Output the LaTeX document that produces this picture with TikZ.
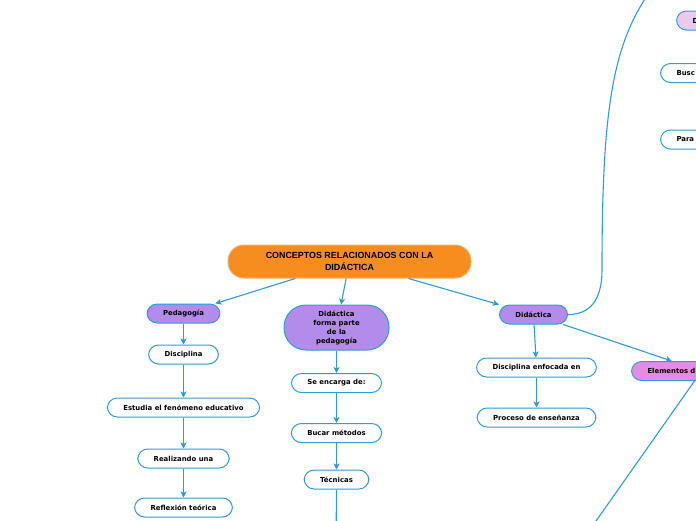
\documentclass[tikz,border=0pt]{standalone}
\usepackage{fontspec}
\setmainfont{DejaVu Sans}
\newfontfamily\titlefont{Liberation Sans}
\usetikzlibrary{arrows.meta, positioning}
\definecolor{linkblue}{HTML}{2D9CDF}
\definecolor{mainorange}{HTML}{F78C1F}
\definecolor{lilac}{HTML}{B38BE8}
\definecolor{orchid}{HTML}{E78BE0}
\definecolor{paleviolet}{HTML}{E8CBEB}

\begin{document}
\begin{tikzpicture}[x=1pt, y=-1pt, >={Stealth[length=6pt, width=6pt, inset=1.5pt]},
  concept/.style={draw=linkblue, line width=1pt, fill=white, rounded corners=10pt, minimum height=19pt, inner xsep=16pt, inner ysep=0pt, font=\fontsize{6.9}{9}\selectfont\bfseries},
  topic/.style={concept, fill=lilac},
  cut/.style={concept, anchor=west, align=left},
  link/.style={draw=linkblue, line width=1.1pt}]
  \useasboundingbox (0,0) rectangle (696,520);
  \clip (0,0) rectangle (696,520);

  \node[concept, fill=mainorange, draw=mainorange!70!white, minimum width=243pt, minimum height=33pt, rounded corners=16pt, align=center, font=\titlefont\fontsize{8.9}{12}\selectfont\bfseries] (conceptos) at (349.5,261.5) {CONCEPTOS RELACIONADOS CON LA\\DIDÁCTICA};

  \node[topic]                (pedagogia)  at (183.5,313.5)              {Pedagogía};
  \node[topic, minimum width=105pt, minimum height=45pt, rounded corners=22pt, align=center]
                              (parte)      at (336.5,327.5)              {Didáctica\\forma parte\\de la\\pedagogía};
  \node[topic]                (didactica)  at (533.5,314.5)              {Didáctica};

  \node[concept]              (disciplina) [below=21pt of pedagogia]     {Disciplina};
  \node[concept]              (estudia)    [below=33pt of disciplina]    {Estudia el fenómeno educativo};
  \node[concept]              (realizando) [below=31pt of estudia]       {Realizando una};
  \node[concept]              (reflexion)  [below=29pt of realizando]    {Reflexión teórica};

  \node[concept]              (encarga)    [below=22.5pt of parte]       {Se encarga de:};
  \node[concept]              (metodos)    [below=30pt of encarga]       {Bucar métodos};
  \node[concept]              (tecnicas)   [below=26.5pt of metodos]     {Técnicas};

  \node[concept]              (enfocada)   [below=33pt of didactica, xshift=3pt] {Disciplina enfocada en};
  \node[concept]              (proceso)    [below=30pt of enfocada]      {Proceso de enseñanza};

  \node[cut, fill=orchid, text width=108pt]    (elementos) at (631,371)   {Elementos d};
  \node[cut, fill=paleviolet, text width=40pt] (dtop)      at (676,20.5)  {D};
  \node[cut, text width=40pt]                  (busc)      at (660,73)    {Busc};
  \node[cut, text width=40pt]                  (para)      at (660,139.5) {Para};

  \coordinate (tecnicasdown) at (336,560);
  \coordinate (elementosdown) at (570,558);
  \coordinate (upper) at (655,-15);

  \path[->, every edge/.append style={link}]
        (conceptos)  edge (pedagogia)
                     edge (parte)
                     edge (didactica)
        (pedagogia)  edge (disciplina)
        (disciplina) edge (estudia)
        (estudia)    edge (realizando)
        (realizando) edge (reflexion)
        (parte)      edge (encarga)
        (encarga)    edge (metodos)
        (metodos)    edge (tecnicas)
        (tecnicas)   edge (tecnicasdown)
        (didactica)  edge (enfocada)
                     edge (elementos)
        (enfocada)   edge (proceso)
        (elementos)  edge (elementosdown)
        ;

  \draw[link] (didactica.east) .. controls (590,314.5) and (602,300) .. (602,270)
              .. controls (602,110) and (612,40) .. (upper);

\end{tikzpicture}
\end{document}
